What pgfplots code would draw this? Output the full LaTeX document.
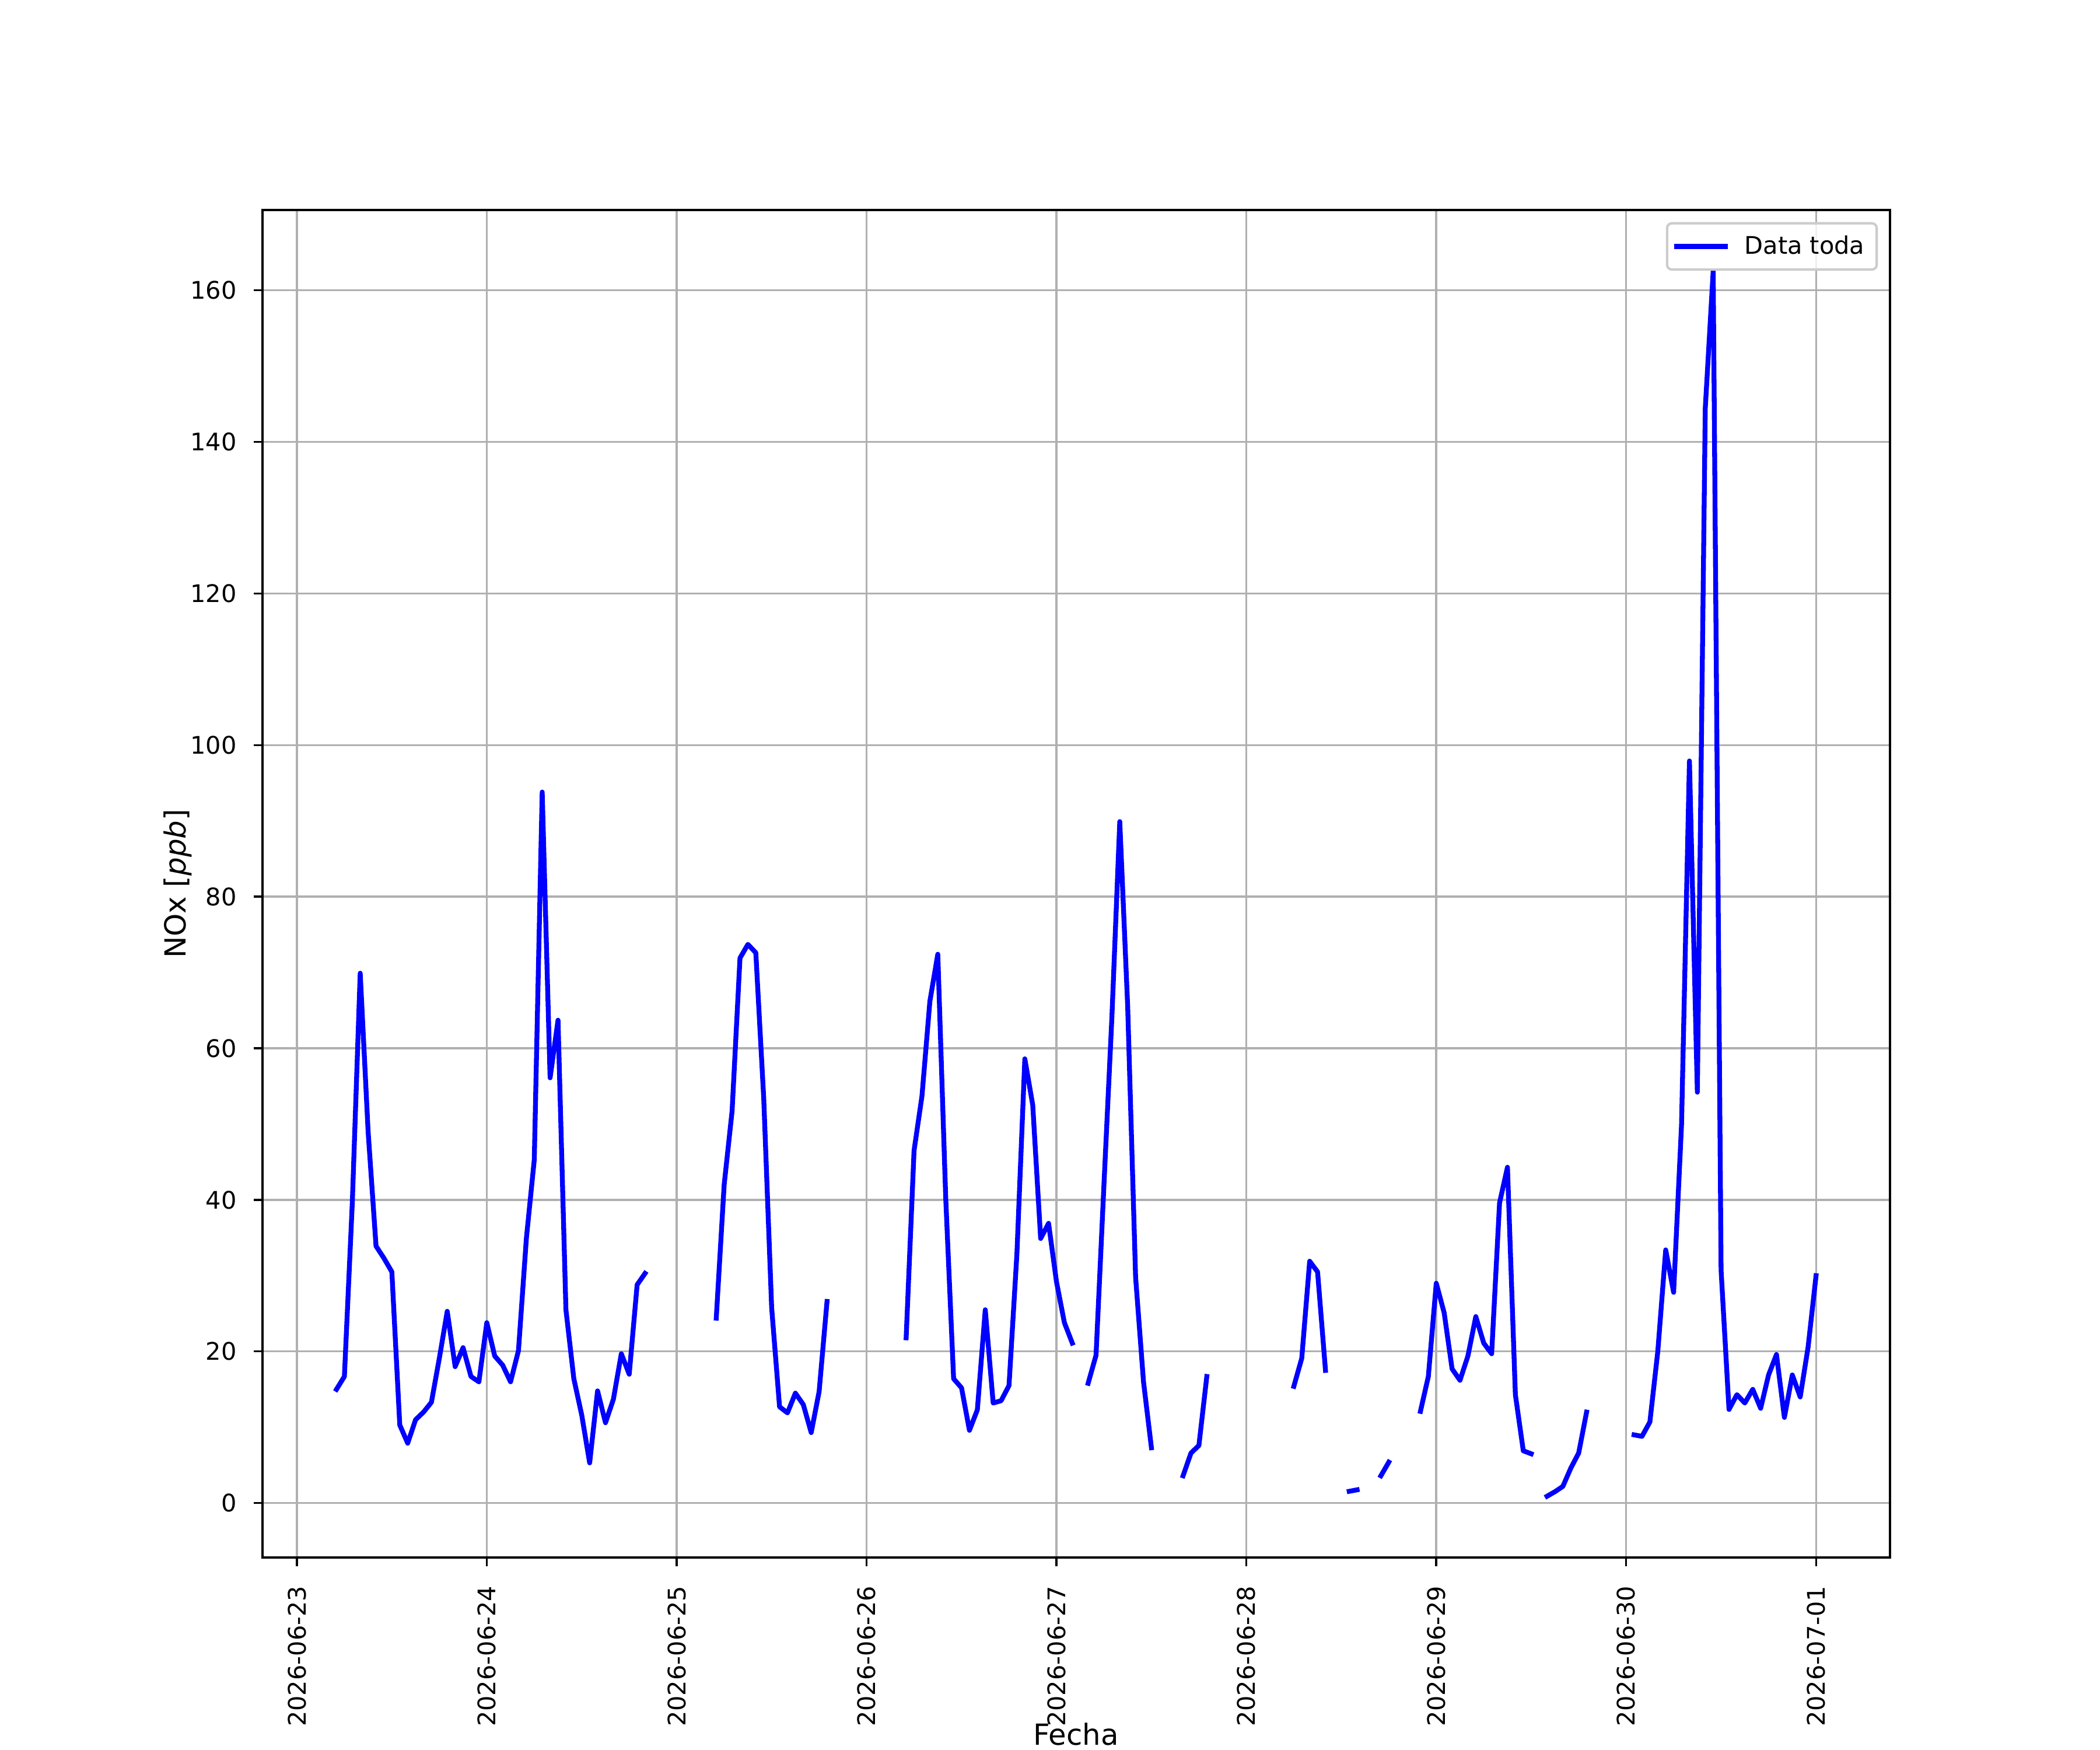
\documentclass[border=0pt]{standalone}
\usepackage{fontspec}
\setmainfont{DejaVu Sans}
\usepackage{pgfplots}
\pgfplotsset{compat=1.18}
\definecolor{gridgray}{RGB}{176,176,176}
\definecolor{legedge}{RGB}{204,204,204}
\begin{document}
\begin{tikzpicture}
\begin{axis}[
  at={(0,0)}, anchor=south west,
  scale only axis, width=9.3in, height=7.7in,
  xmin=-4.35, xmax=201.35, ymin=-7.18, ymax=170.58,
  axis line style={line width=0.8pt, black},
  tick style={line width=0.8pt, black},
  tick align=outside, major tick length=3.5pt,
  xtick pos=left, ytick pos=left,
  xtick={0,24,48,72,96,120,144,168,192},
  xticklabels={2026-06-23,2026-06-24,2026-06-25,2026-06-26,2026-06-27,2026-06-28,2026-06-29,2026-06-30,2026-07-01},
  ytick={0,20,40,60,80,100,120,140,160},
  /pgf/number format/assume math mode=true,
  ticklabel style={font=\fontsize{10}{12}\selectfont, inner sep=0pt},
  xticklabel style={rotate=90, anchor=east},
  yticklabel style={anchor=east},
  xticklabel shift=8pt, yticklabel shift=7pt,
  grid=major,
  major grid style={line width=0.8pt, gridgray},
  xlabel={Fecha}, ylabel={NOx [\textit{ppb}]},
  label style={font=\fontsize{12}{14}\selectfont},
  xlabel style={at={(axis description cs:0.5,-0.139)}, anchor=base, inner sep=0pt},
  ylabel style={at={(axis description cs:-0.047,0.5)}, rotate=0, anchor=base},
  unbounded coords=jump,
  legend cell align=left,
  legend style={at={(axis description cs:1,1)}, anchor=north east, xshift=-5pt, yshift=-5pt,
    draw=legedge, line width=1pt, rounded corners=2pt, fill=white, fill opacity=0.8, text opacity=1,
    font=\fontsize{10}{12}\selectfont, inner xsep=3pt, inner ysep=3pt,
    /tikz/every odd column/.append style={column sep=5pt}},
  legend image code/.code={\draw[#1] (0pt,0pt) -- (20pt,0pt);},
]
\addplot[blue, line width=2pt, line join=round, line cap=rect] table[x=h, y=v] {
h v
5 15.0
6 16.7
7 39.6
8 69.9
9 49.0
10 33.9
11 32.3
12 30.5
13 10.3
14 7.9
15 11.0
16 12.0
17 13.3
18 19.1
19 25.3
20 18.0
21 20.5
22 16.7
23 16.0
24 23.8
25 19.4
26 18.2
27 16.0
28 20.1
29 34.9
30 45.3
31 93.8
32 56.1
33 63.7
34 25.5
35 16.4
36 11.6
37 5.3
38 14.8
39 10.6
40 13.7
41 19.7
42 17.0
43 28.8
44 30.3
45 nan
53 24.4
54 42.0
55 51.7
56 71.9
57 73.7
58 72.6
59 53.4
60 25.8
61 12.7
62 11.9
63 14.5
64 13.0
65 9.3
66 14.7
67 26.6
68 nan
77 21.8
78 46.5
79 53.7
80 66.2
81 72.4
82 40.3
83 16.4
84 15.2
85 9.6
86 12.3
87 25.5
88 13.2
89 13.5
90 15.5
91 32.9
92 58.6
93 52.5
94 34.9
95 36.9
96 29.2
97 23.8
98 21.1
99 nan
100 15.8
101 19.5
102 42.0
103 64.0
104 89.9
105 65.5
106 29.8
107 16.0
108 7.3
109 nan
112 3.6
113 6.6
114 7.6
115 16.7
116 nan
126 15.4
127 19.1
128 31.9
129 30.5
130 17.5
131 nan
133 1.55
134 1.75
135 nan
137 3.6
138 5.4
139 nan
142 12.1
143 16.7
144 29.0
145 25.1
146 17.7
147 16.2
148 19.4
149 24.6
150 21.1
151 19.7
152 39.6
153 44.3
154 14.3
155 6.9
156 6.5
157 nan
158 0.9
159 1.5
160 2.2
161 4.6
162 6.6
163 12.0
164 nan
169 9.0
170 8.8
171 10.7
172 20.0
173 33.4
174 27.8
175 49.9
176 97.9
177 54.2
178 144.4
179 162.5
180 30.7
181 12.35
182 14.3
183 13.2
184 15.0
185 12.5
186 16.9
187 19.6
188 11.3
189 16.9
190 14.0
191 20.6
192 30.0
};
\addlegendentry{Data toda}
\end{axis}
\pgfresetboundingbox
\useasboundingbox (-1.5in,-1.1in) rectangle (10.5in,8.9in);
\end{tikzpicture}
\end{document}
